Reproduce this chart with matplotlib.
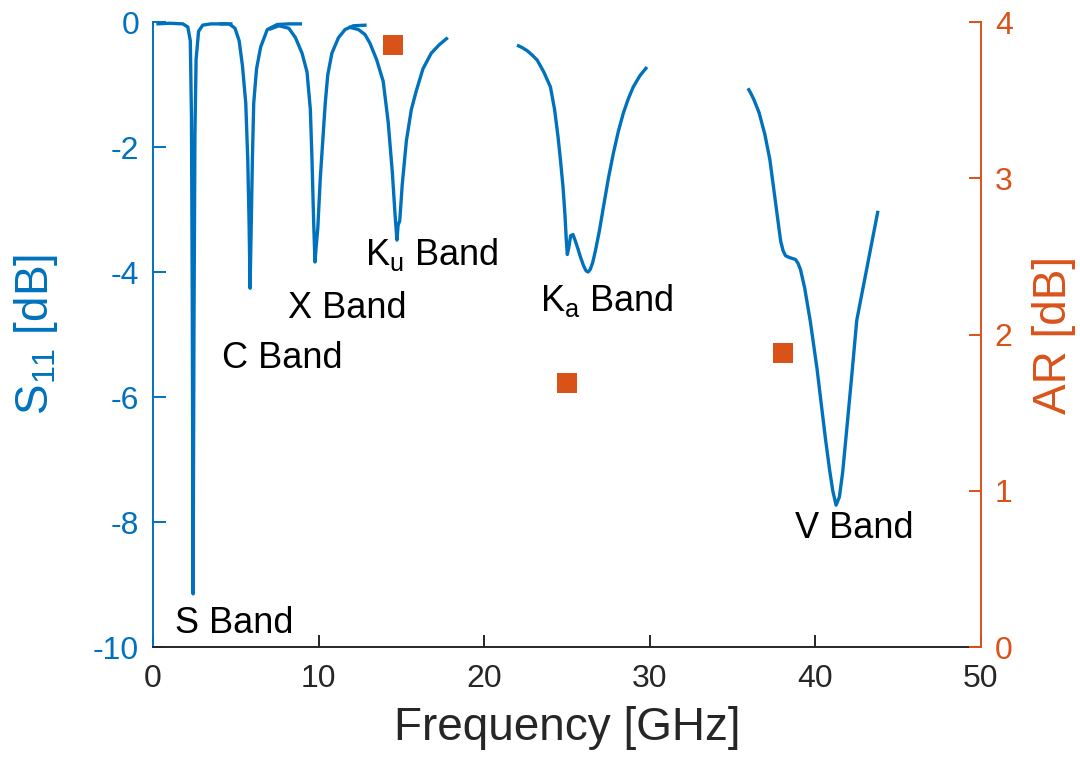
import matplotlib
matplotlib.use("Agg")
from matplotlib import pyplot as plt

plt.rcParams['font.family'] = ['Liberation Sans', 'DejaVu Sans']
plt.rcParams['mathtext.fontset'] = 'custom'
plt.rcParams['mathtext.rm'] = 'Liberation Sans'
plt.rcParams['mathtext.it'] = 'Liberation Sans:italic'
plt.rcParams['axes.unicode_minus'] = False

BLUE = "#0072BD"
ORANGE = "#D95319"
DARK = "#262626"

# S11 measured per band (GHz, dB)
s_freq = [0.2, 1.0, 1.8, 2.1, 2.25, 2.32, 2.37, 2.42, 2.47, 2.53, 2.6, 2.75, 3.0, 3.5, 4.0, 4.8]
s_db = [-0.03, -0.02, -0.03, -0.08, -0.3, -1.5, -4.5, -9.15, -5.0, -1.8, -0.6, -0.15, -0.05, -0.03, -0.03, -0.03]

c_freq = [4.0, 4.6, 4.95, 5.2, 5.4, 5.6, 5.72, 5.8, 5.86, 5.92, 6.0, 6.08, 6.25, 6.5, 6.9, 7.5, 8.2, 9.0]
c_db = [-0.03, -0.03, -0.1, -0.3, -0.7, -1.3, -2.2, -3.2, -4.26, -3.4, -2.2, -1.3, -0.75, -0.4, -0.12, -0.04, -0.03, -0.03]

x_freq = [7.0, 7.6, 8.2, 8.6, 9.0, 9.3, 9.5, 9.6, 9.7, 9.78, 9.85, 9.95, 10.1, 10.25, 10.4, 10.55, 10.8, 11.2,
          11.6, 12.1, 12.9]
x_db = [-0.12, -0.06, -0.1, -0.25, -0.5, -0.8, -1.4, -2.2, -3.2, -3.84, -3.6, -3.3, -2.5, -1.9, -1.3, -0.85, -0.5,
        -0.25, -0.12, -0.06, -0.05]

ku_freq = [11.8, 12.4, 12.8, 13.1, 13.5, 13.9, 14.2, 14.45, 14.62, 14.73, 14.8, 14.9, 15.05, 15.3, 15.6, 15.9,
           16.3, 16.8, 17.3, 17.8]
ku_db = [-0.08, -0.12, -0.2, -0.34, -0.6, -0.95, -1.6, -2.4, -3.1, -3.49, -3.25, -3.18, -2.6, -1.9, -1.4, -1.1,
         -0.75, -0.5, -0.36, -0.25]

ka_freq = [21.98, 22.3, 22.6, 22.9, 23.2, 23.6, 24.0, 24.25, 24.46, 24.62, 24.76, 24.88, 24.96, 25.02, 25.1,
           25.22, 25.36, 25.5, 25.65, 25.8, 26.0, 26.15, 26.27, 26.4, 26.55, 26.7, 26.95, 27.2, 27.5, 27.8, 28.1,
           28.4, 28.7, 29.0, 29.4, 29.83]
ka_db = [-0.37, -0.41, -0.46, -0.53, -0.61, -0.8, -1.04, -1.4, -1.84, -2.25, -2.64, -3.1, -3.5, -3.72, -3.62,
         -3.42, -3.4, -3.5, -3.62, -3.75, -3.9, -3.98, -4.0, -3.96, -3.85, -3.68, -3.35, -2.96, -2.5, -2.1, -1.75,
         -1.46, -1.23, -1.04, -0.86, -0.72]

v_freq = [35.93, 36.1, 36.3, 36.6, 36.95, 37.25, 37.5, 37.7, 37.9, 38.05, 38.2, 38.45, 38.8, 38.95, 39.1, 39.35,
          39.7, 40.1, 40.6, 40.85, 41.05, 41.25, 41.45, 41.65, 41.9, 42.2, 42.5, 43.1, 43.78]
v_db = [-1.06, -1.14, -1.25, -1.45, -1.8, -2.2, -2.7, -3.1, -3.5, -3.66, -3.74, -3.77, -3.8, -3.86, -3.96, -4.25,
        -4.8, -5.55, -6.65, -7.15, -7.5, -7.73, -7.6, -7.2, -6.5, -5.65, -4.77, -3.95, -3.02]

# axial ratio at band centres
ar_freq = [14.5, 25.0, 38.05]
ar_db = [3.85, 1.69, 1.88]

# band labels: (text, x, y baseline)
band_labels = [("S Band", 1.33, -9.78),
               ("C Band", 4.17, -5.54),
               ("X Band", 8.15, -4.74),
               (r"K$_\mathrm{u}$ Band", 12.8, -3.89),
               (r"K$_\mathrm{a}$ Band", 23.37, -4.62),
               ("V Band", 38.77, -8.26)]

fig = plt.figure(figsize=(10.8, 7.72), dpi=100)
ax = fig.add_axes([0.1417, 0.1619, 0.7666, 0.8096])
ax2 = ax.twinx()

segments = [(s_freq, s_db), (c_freq, c_db), (x_freq, x_db),
            (ku_freq, ku_db), (ka_freq, ka_db), (v_freq, v_db)]
for f, d in segments:
    ax.plot(f, d, color=BLUE, lw=2.4, clip_on=False, solid_capstyle='butt', solid_joinstyle='round')

ax2.plot(ar_freq, ar_db, 's', color=ORANGE, markersize=14, markeredgewidth=0, clip_on=False)

for txt, xx, yy in band_labels:
    ax.text(xx, yy, txt, fontsize=26, color='black', ha='left', va='baseline')

ax.set_xlim(0, 50)
ax.set_ylim(-10, 0)
ax2.set_ylim(0, 4)
ax.set_xticks([0, 10, 20, 30, 40, 50])
ax.set_yticks([-10, -8, -6, -4, -2, 0])
ax2.set_yticks([0, 1, 2, 3, 4])

for a in (ax, ax2):
    a.spines['top'].set_visible(False)
    for s in a.spines.values():
        s.set_linewidth(1.4)
ax.spines['left'].set_color(BLUE)
ax.spines['bottom'].set_color(DARK)
ax.spines['right'].set_visible(False)
ax2.spines['left'].set_visible(False)
ax2.spines['bottom'].set_visible(False)
ax2.spines['right'].set_color(ORANGE)

ax.tick_params(axis='x', direction='in', length=9, width=1.4, colors=DARK, labelsize=23, pad=12)
ax.tick_params(axis='y', direction='in', length=9, width=1.4, colors=BLUE, labelsize=23, pad=10)
ax2.tick_params(axis='y', direction='in', length=9, width=1.4, colors=ORANGE, labelsize=23, pad=10)

ax.set_xlabel("Frequency [GHz]", fontsize=33, color=DARK)
ax.set_ylabel(r"S$_\mathrm{11}$ [dB]", fontsize=33, color=BLUE)
ax2.set_ylabel("AR [dB]", fontsize=33, color=ORANGE)
ax.xaxis.set_label_coords(0.5, -0.095)
ax.yaxis.set_label_coords(-0.112, 0.5)
ax2.yaxis.set_label_coords(1.062, 0.5)

fig.savefig("out.png", dpi=100)
